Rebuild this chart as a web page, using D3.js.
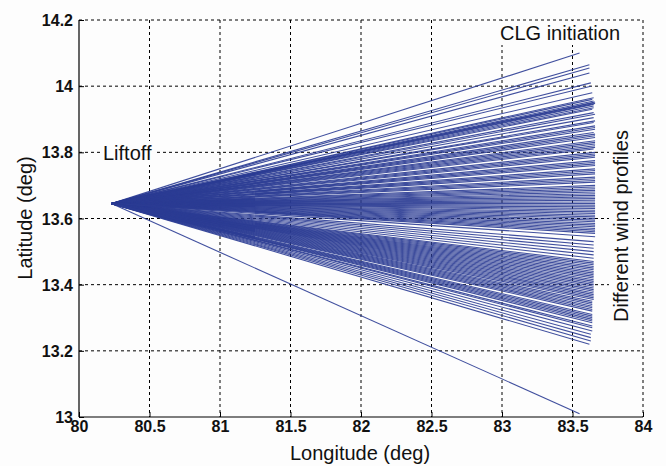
<!DOCTYPE html>
<html><head><meta charset="utf-8">
<script src="https://cdn.jsdelivr.net/npm/d3@7"></script>
<style>body{margin:0;background:#fdfdfd;}svg{display:block;}</style>
</head><body>
<svg id="c" width="666" height="466"></svg>
<script>
const xTicks = [80, 80.5, 81, 81.5, 82, 82.5, 83, 83.5, 84];
const yTicks = [13, 13.2, 13.4, 13.6, 13.8, 14, 14.2];
const yTickLabels = ["13", "13.2", "13.4", "13.6", "13.8", "14", "14.2"];
const liftoff = [80.23, 13.645];
const endLon = [83.55,83.62,83.62,83.62,83.63,83.63,83.64,83.64,83.65,83.65,83.65,83.65,83.64,83.65,83.65,83.65,83.66,83.66,83.65,83.66,83.66,83.66,83.66,83.66,83.65,83.66,83.66,83.66,83.66,83.66,83.66,83.66,83.66,83.66,83.66,83.66,83.66,83.66,83.66,83.66,83.66,83.66,83.66,83.66,83.66,83.66,83.66,83.66,83.66,83.66,83.66,83.66,83.66,83.66,83.65,83.65,83.65,83.65,83.65,83.65,83.65,83.65,83.65,83.65,83.65,83.65,83.65,83.65,83.65,83.65,83.65,83.65,83.65,83.65,83.65,83.65,83.64,83.64,83.64,83.64,83.64,83.64,83.64,83.64,83.64,83.64,83.64,83.64,83.63,83.63,83.63,83.62,83.55,
  83.65,83.66,83.66,83.65,83.66,83.66,83.66,83.66,83.66,83.66,83.66,83.66,83.66,83.66,83.66,83.66,83.66,83.66,83.66,83.66,83.66,83.66,83.66,83.66,83.66,83.66,83.66,83.66,83.65,83.65,83.65,83.65,83.65,83.65,83.65,83.65,83.64,83.64,83.64,83.64];
const endLat = [14.10,14.065,14.055,14.04,14.01,14.00,13.98,13.96,13.955,13.95,13.945,13.94,13.93,13.92,13.905,13.89,13.88,13.87,13.86,13.85,13.845,13.835,13.83,13.82,13.81,13.80,13.79,13.785,13.775,13.77,13.76,13.75,13.74,13.735,13.72,13.71,13.70,13.69,13.685,13.675,13.665,13.655,13.645,13.64,13.63,13.62,13.61,13.60,13.595,13.585,13.575,13.565,13.555,13.545,13.53,13.52,13.51,13.50,13.49,13.48,13.47,13.46,13.455,13.445,13.44,13.43,13.42,13.415,13.41,13.40,13.395,13.39,13.38,13.37,13.365,13.36,13.35,13.345,13.34,13.33,13.32,13.31,13.30,13.29,13.285,13.275,13.27,13.26,13.25,13.24,13.23,13.22,13.01,
  13.965,13.952,13.948,13.935,13.915,13.895,13.875,13.855,13.825,13.815,13.795,13.765,13.745,13.725,13.715,13.695,13.68,13.67,13.66,13.65,13.635,13.625,13.615,13.605,13.59,13.58,13.57,13.56,13.465,13.45,13.435,13.425,13.405,13.385,13.375,13.355,13.335,13.325,13.305,13.295];

const svg = d3.select("#c");
const L = 79, R = 643, T = 20, B = 417;
const x = d3.scaleLinear().domain([80, 84]).range([L, R]);
const y = d3.scaleLinear().domain([13, 14.2]).range([B, T]);

// grid
const g = svg.append("g");
g.selectAll("line.gx").data(xTicks.slice(1)).join("line")
  .attr("x1", d => x(d)).attr("x2", d => x(d)).attr("y1", T).attr("y2", B)
  .attr("stroke", "#000").attr("stroke-width", 1).attr("stroke-dasharray", "3,3");
g.selectAll("line.gy").data(yTicks.slice(1)).join("line")
  .attr("x1", L).attr("x2", R).attr("y1", d => y(d)).attr("y2", d => y(d))
  .attr("stroke", "#000").attr("stroke-width", 1).attr("stroke-dasharray", "3,3");

// trajectories
const lines = svg.append("g");
endLat.forEach((lat, i) => {
  lines.append("line")
    .attr("x1", x(liftoff[0])).attr("y1", y(liftoff[1]))
    .attr("x2", x(endLon[i])).attr("y2", y(lat))
    .attr("stroke", "#2b3c94").attr("stroke-width", 1.1).attr("stroke-opacity", 0.9);
});

// axes
const xAxis = d3.axisBottom(x).tickValues(xTicks).tickSize(-5).tickPadding(5).tickFormat(d3.format("~g"));
const yAxis = d3.axisLeft(y).tickValues(yTicks).tickSize(-5).tickPadding(6).tickFormat((d, i) => yTickLabels[i]);
const ax = svg.append("g").attr("transform", `translate(0,${B})`).call(xAxis);
const ay = svg.append("g").attr("transform", `translate(${L},0)`).call(yAxis);
[ax, ay].forEach(a => {
  a.select(".domain").attr("stroke", "#000").attr("stroke-width", 1.2);
  a.selectAll("line").attr("stroke", "#000");
  a.selectAll("text").attr("font-family", "Liberation Sans, Arial, sans-serif")
    .attr("font-weight", "bold").attr("font-size", 16).attr("fill", "#111");
});
ax.selectAll("text").attr("dy", "0.6em");
ay.selectAll("text").attr("dy", "0.35em");
ax.select(".domain").attr("d", `M${L},0H${R}`);
ay.select(".domain").attr("d", `M0,${B}V${T}`);

const font = "Liberation Sans, Arial, sans-serif";
function label(txt, px, py, rot, anchor) {
  return svg.append("text").text(txt).attr("font-family", font).attr("font-size", 20)
    .attr("fill", "#111").attr("text-anchor", anchor || "start")
    .attr("transform", `translate(${px},${py})` + (rot ? ` rotate(${rot})` : ""));
}
function boxed(txt, px, py, rot, anchor) {
  const grp = svg.append("g");
  const t = label(txt, px, py, rot, anchor);
  const bb = t.node().getBBox();
  grp.append("rect").attr("x", bb.x - 3).attr("y", bb.y - 1).attr("width", bb.width + 6).attr("height", bb.height + 2)
    .attr("fill", "#fdfdfd").attr("transform", t.attr("transform"));
  grp.node().appendChild(t.node());
}
boxed("Liftoff", 103, 160, 0, "start");
boxed("CLG initiation", 500, 40, 0, "start");
boxed("Different wind profiles", 628, 226, -90, "middle");

label("Latitude (deg)", 32, 218, -90, "middle");
label("Longitude (deg)", 360, 460, 0, "middle");
</script>
</body></html>
